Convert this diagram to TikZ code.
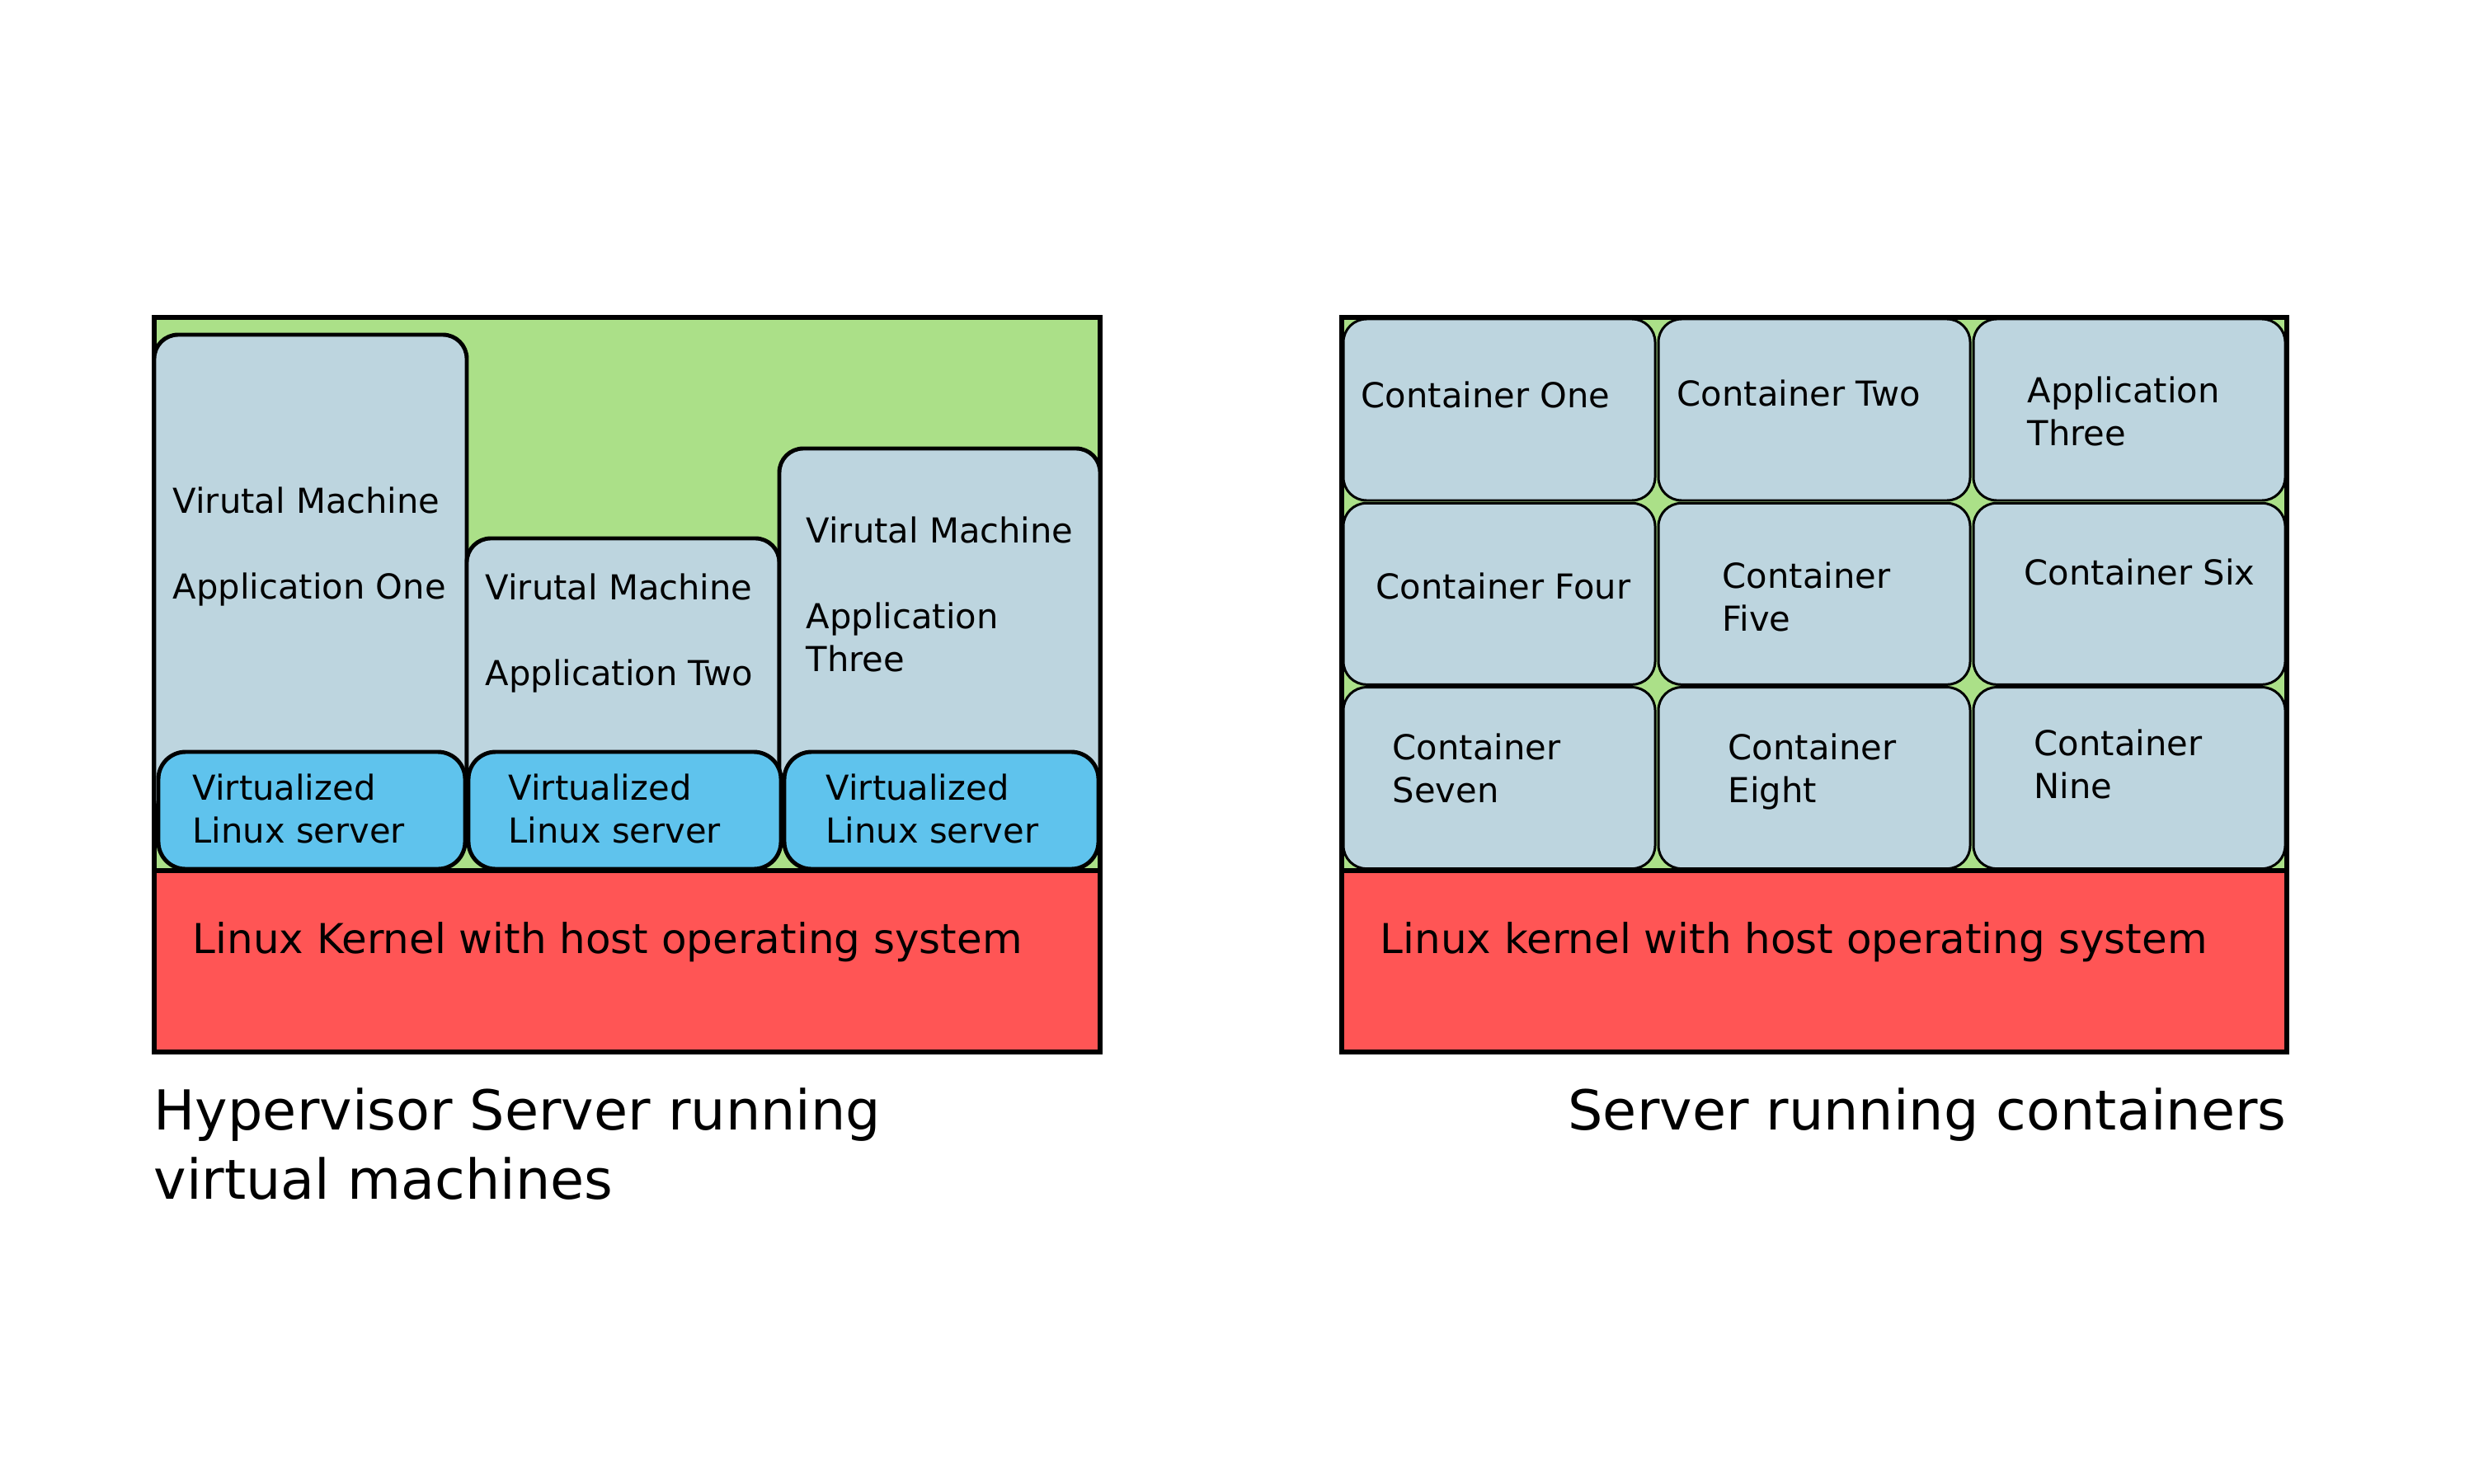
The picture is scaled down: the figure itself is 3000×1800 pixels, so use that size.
\documentclass[tikz,border=0pt]{standalone}
\usepackage{fontspec}
\setmainfont{DejaVu Sans}
\usetikzlibrary{positioning}
\definecolor{hostgreen}{RGB}{171,224,136}
\definecolor{vmgrey}{RGB}{189,213,223}
\definecolor{vmblue}{RGB}{95,195,237}
\definecolor{kernelred}{RGB}{255,85,85}
\newcommand{\boxlines}[1]{\begin{tabular}[t]{@{}l@{}}#1\end{tabular}}

\begin{document}
\begin{tikzpicture}[x=0.01cm,y=-0.01cm,
    hostbox/.style={draw=black,line width=1.45pt,fill=hostgreen},
    kernelbox/.style={draw=black,line width=1.45pt,fill=kernelred},
    vmbox/.style={draw=black,line width=1.4pt,fill=vmgrey,rounded corners=0.29cm},
    guestbox/.style={draw=black,line width=1.4pt,fill=vmblue,rounded corners=0.33cm},
    cellbox/.style={draw=black,line width=0.85pt,fill=vmgrey,rounded corners=0.28cm},
    lbl/.style={anchor=base west,inner sep=0pt,font=\fontsize{11.85}{14.8}\selectfont},
    klbl/.style={anchor=base west,inner sep=0pt,font=\fontsize{14.2}{17}\selectfont},
    ttl/.style={inner sep=0pt,font=\fontsize{19}{23.9}\selectfont}]
  \useasboundingbox (0,0) rectangle (3000,1800);
  % hypervisor side
  \draw[hostbox] (187,385) rectangle (1334,1276);
  \draw[vmbox] (187,406) rectangle (566,1000);
  \draw[vmbox] (566,653) rectangle (945,1000);
  \draw[vmbox] (945,544) rectangle (1334,1000);
  \draw[guestbox] (192,912) rectangle (564,1054);
  \draw[guestbox] (568,912) rectangle (947,1054);
  \draw[guestbox] (951,912) rectangle (1332,1054);
  \draw[kernelbox] (187,1056) rectangle (1334,1276);
  \node[lbl] (vm1) at (209,622) {\boxlines{Virutal Machine\\ \\ Application One}};
  \node[lbl] (vm2) at (588,727) {\boxlines{Virutal Machine\\ \\ Application Two}};
  \node[lbl] (vm3) at (977,658) {\boxlines{Virutal Machine\\ \\ Application\\ Three}};
  \node[lbl] (g1) at (233,970) {\boxlines{Virtualized\\ Linux server}};
  \node[lbl] (g2) at (616,970) {\boxlines{Virtualized\\ Linux server}};
  \node[lbl] (g3) at (1001,970) {\boxlines{Virtualized\\ Linux server}};
  \node[klbl] (k1) at (233,1156) {Linux Kernel with host operating system};
  \node[ttl,anchor=base west] (t1) at (186,1370) {\boxlines{Hypervisor Server running\\ virtual machines}};
  % container side
  \draw[hostbox] (1627,385) rectangle (2773,1276);
  \foreach \c in {0,1,2}
    \foreach \r in {0,1,2}
      \draw[cellbox] (1629+382*\c,387+223.3*\r) rectangle (2007+382*\c,607+223.3*\r);
  \draw[kernelbox] (1627,1056) rectangle (2773,1276);
  \node[lbl] (c1) at (1650,494) {Container One};
  \node[lbl] (c2) at (2033,492) {Container Two};
  \node[lbl] (c3) at (2458,488) {\boxlines{Application\\ Three}};
  \node[lbl] (c4) at (1668,726) {Container Four};
  \node[lbl] (c5) at (2088,713) {\boxlines{Container\\ Five}};
  \node[lbl] (c6) at (2454,709) {Container Six};
  \node[lbl] (c7) at (1688,921) {\boxlines{Container\\ Seven}};
  \node[lbl] (c8) at (2095,921) {\boxlines{Container\\ Eight}};
  \node[lbl] (c9) at (2466,916) {\boxlines{Container\\ Nine}};
  \node[klbl] (k2) at (1673,1156) {Linux kernel with host operating system};
  \node[ttl,anchor=base east] (t2) at (2773,1370) {Server running containers};
\end{tikzpicture}
\end{document}
